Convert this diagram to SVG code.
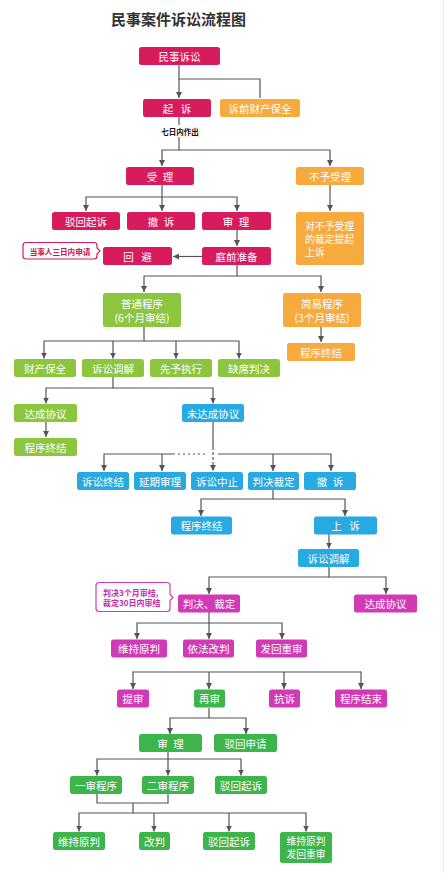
<svg xmlns="http://www.w3.org/2000/svg" width="444" height="873" viewBox="0 0 444 873">
<defs>
<marker id="ah" viewBox="0 0 8 8" refX="8" refY="4" markerWidth="6" markerHeight="6" markerUnits="userSpaceOnUse" orient="auto"><path d="M0,0 L8,4 L0,8 z" fill="#555"/></marker>
<style>
text{font-family:"Noto Sans CJK SC","Noto Sans",sans-serif;}
.t{fill:#fff;font-size:10.5px;text-anchor:middle;dominant-baseline:central;}
.t2{fill:#fff;font-size:9.8px;text-anchor:middle;dominant-baseline:central;}
.tl{fill:#fff;font-size:9.8px;dominant-baseline:central;}
.c{stroke:#555;stroke-width:1.2;fill:none;}
.a{marker-end:url(#ah);}
.r{fill:#d81b5c;}
.o{fill:#f7aa3d;}
.lg{fill:#8cc63f;}
.b{fill:#27a9e1;}
.m{fill:#d23ab5;}
.g{fill:#3db54a;}
</style>
</defs>
<rect width="444" height="873" fill="#fff"/>
<line x1="443.5" y1="0" x2="443.5" y2="873" stroke="#ececec" stroke-width="1"/>
<text x="178.5" y="25" font-size="15" font-weight="bold" fill="#333" text-anchor="middle">民事案件诉讼流程图</text>

<g id="connectors">
<path class="c" d="M179,65 V79 H260 V98"/>
<path class="c a" d="M179,79 V98"/>
<path class="c" d="M179,117 V125"/>
<path class="c a" d="M179,137 V150 H162 V166"/>
<path class="c a" d="M179,150 H330 V166"/>
<path class="c a" d="M162,185 V197 H86 V211"/>
<path class="c a" d="M162,197 V211"/>
<path class="c a" d="M162,197 H237 V211"/>
<path class="c a" d="M330,185 V211"/>
<path class="c a" d="M237,230 V246"/>
<path class="c a" d="M202,256.5 H173"/>
<path class="c a" d="M237,265 V276 H144 V292"/>
<path class="c a" d="M237,276 H321 V292"/>
<path class="c a" d="M321,327 V342"/>
<path class="c a" d="M144,327 V341 H44 V358.5"/>
<path class="c a" d="M113,341 V358.5"/>
<path class="c a" d="M176,341 V358.5"/>
<path class="c a" d="M144,341 H239 V358.5"/>
<path class="c a" d="M113,377 V388 H46 V403.5"/>
<path class="c a" d="M113,388 H213 V403.5"/>
<path class="c a" d="M46,422 V437"/>
<path class="c" d="M213,422 V447"/>
<path class="c a" d="M213,447 V471" stroke-dasharray="3,2"/>
<path class="c a" d="M175,454 H104 V471"/>
<path class="c a" d="M162,454 V471"/>
<path class="c" d="M178,454 H206" stroke-dasharray="2,3"/>
<path class="c a" d="M218,454 H331 V471"/>
<path class="c a" d="M273,454 V471"/>
<path class="c a" d="M273,489 V499 H201 V516"/>
<path class="c a" d="M273,499 H345 V516"/>
<path class="c a" d="M329,534 V548.5"/>
<path class="c a" d="M329,567 V577 H209 V594"/>
<path class="c a" d="M329,577 H386 V594"/>
<path class="c a" d="M209,612 V623 H137 V639"/>
<path class="c a" d="M209,623 V639"/>
<path class="c a" d="M209,623 H282 V639"/>
<path class="c" d="M133,672 H361"/>
<path class="c a" d="M133,671.4 V689"/>
<path class="c a" d="M209,672 V689"/>
<path class="c a" d="M284,672 V689"/>
<path class="c a" d="M361,671.4 V689"/>
<path class="c a" d="M209,708 V718 H170 V734"/>
<path class="c a" d="M209,718 H246 V734"/>
<path class="c a" d="M168,752 V759 H97 V775.5"/>
<path class="c a" d="M168,759 V775.5"/>
<path class="c a" d="M168,759 H241 V775.5"/>
<path class="c" d="M97,794 V803 H168 V794"/>
<path class="c a" d="M133,803 V813 H79 V831.5"/>
<path class="c a" d="M154,813 V831.5"/>
<path class="c a" d="M229,813 V831.5"/>
<path class="c a" d="M133,813 H306 V831.5"/>
<text x="180" y="131" font-size="7.5" font-weight="bold" fill="#111" text-anchor="middle" dominant-baseline="central">七日内作出</text>
</g>

<g id="n-mssn"><rect class="r" x="139" y="47" width="81" height="18" rx="2.5"/><text class="t" x="179.5" y="56">民事诉讼</text></g>
<g id="n-qs"><rect class="r" x="143" y="99" width="68" height="18" rx="2.5"/><text class="t" x="177" y="108" word-spacing="5">起 诉</text></g>
<g id="n-sqcc"><rect class="o" x="220" y="99" width="80" height="18" rx="2.5"/><text class="t" x="260" y="108">诉前财产保全</text></g>
<g id="n-sl"><rect class="r" x="126" y="167" width="68" height="18" rx="2.5"/><text class="t" x="160" y="176" word-spacing="3">受 理</text></g>
<g id="n-bysl"><rect class="o" x="296" y="167" width="68" height="18" rx="2.5"/><text class="t" x="330" y="176">不予受理</text></g>
<g id="n-bhqs"><rect class="r" x="52" y="212" width="68" height="18" rx="2.5"/><text class="t" x="86" y="221">驳回起诉</text></g>
<g id="n-cs"><rect class="r" x="127" y="212" width="68" height="18" rx="2.5"/><text class="t" x="161" y="221" word-spacing="3">撤 诉</text></g>
<g id="n-sl2"><rect class="r" x="202" y="212" width="69" height="18" rx="2.5"/><text class="t" x="236" y="221" word-spacing="3">审 理</text></g>
<g id="n-dbysl"><rect class="o" x="296" y="212" width="68" height="53" rx="2.5"/><text class="tl" x="305" y="225.5">对不予受理</text><text class="tl" x="305" y="238.5">的裁定提起</text><text class="tl" x="305" y="251.5">上诉</text></g>
<g id="n-hb"><rect class="r" x="103" y="247" width="69" height="18" rx="2.5"/><text class="t" x="137.5" y="256" word-spacing="5">回 避</text></g>
<g id="n-tqzb"><rect class="r" x="202" y="247" width="69" height="18" rx="2.5"/><text class="t" x="236.5" y="256">庭前准备</text></g>
<g id="n-callout1"><path d="M26,242.5 H94 Q97,242.5 97,245.5 V248 L100,251 L97,254 V256 Q97,259 94,259 H26 Q23,259 23,256 V245.5 Q23,242.5 26,242.5 Z" fill="#fff" stroke="#d81b5c" stroke-width="1.2"/><text x="60" y="251" font-size="7.6" font-weight="bold" fill="#c8174f" text-anchor="middle" dominant-baseline="central">当事人三日内申请</text></g>
<g id="n-ptcx"><rect class="lg" x="103" y="293" width="78" height="34" rx="2.5"/><text class="t" x="142" y="303">普通程序</text><text class="t" x="142" y="317">(6个月审结)</text></g>
<g id="n-jycx"><rect class="o" x="283" y="293" width="78" height="34" rx="2.5"/><text class="t" x="322" y="303">简易程序</text><text class="t" x="322" y="317">(3个月审结)</text></g>
<g id="n-cxzj1"><rect class="o" x="287" y="343" width="68" height="18" rx="2.5"/><text class="t" x="321" y="352">程序终结</text></g>
<g id="n-ccbq"><rect class="lg" x="14" y="359" width="62" height="18" rx="2.5"/><text class="t" x="45" y="368">财产保全</text></g>
<g id="n-sstj"><rect class="lg" x="82" y="359" width="62" height="18" rx="2.5"/><text class="t" x="113" y="368">诉讼调解</text></g>
<g id="n-xyzx"><rect class="lg" x="150" y="359" width="62" height="18" rx="2.5"/><text class="t" x="181" y="368">先予执行</text></g>
<g id="n-qxpj"><rect class="lg" x="218" y="359" width="62" height="18" rx="2.5"/><text class="t" x="249" y="368">缺席判决</text></g>
<g id="n-dcxy"><rect class="lg" x="14" y="404" width="63" height="18" rx="2.5"/><text class="t" x="45.5" y="413">达成协议</text></g>
<g id="n-wdcxy"><rect class="b" x="182" y="404" width="62" height="18" rx="2.5"/><text class="t" x="213" y="413">未达成协议</text></g>
<g id="n-cxzj2"><rect class="lg" x="14" y="438" width="63" height="18" rx="2.5"/><text class="t" x="45.5" y="447">程序终结</text></g>
<g id="n-sszj"><rect class="b" x="77" y="472" width="52" height="18" rx="2.5"/><text class="t" x="103" y="481">诉讼终结</text></g>
<g id="n-yqsl"><rect class="b" x="134" y="472" width="52" height="18" rx="2.5"/><text class="t" x="160" y="481">延期审理</text></g>
<g id="n-sszz"><rect class="b" x="191" y="472" width="52" height="18" rx="2.5"/><text class="t" x="217" y="481">诉讼中止</text></g>
<g id="n-pjcd"><rect class="b" x="248" y="472" width="51" height="18" rx="2.5"/><text class="t" x="273.5" y="481">判决裁定</text></g>
<g id="n-cs2"><rect class="b" x="304" y="472" width="52" height="18" rx="2.5"/><text class="t" x="330" y="481" word-spacing="3">撤 诉</text></g>
<g id="n-cxzj3"><rect class="b" x="171" y="516.5" width="61" height="18" rx="2.5"/><text class="t" x="201.5" y="525.5">程序终结</text></g>
<g id="n-ss"><rect class="b" x="314" y="516.5" width="63" height="18" rx="2.5"/><text class="t" x="345.5" y="525.5" word-spacing="5">上 诉</text></g>
<g id="n-sstj2"><rect class="b" x="298" y="549" width="61" height="18" rx="2.5"/><text class="t" x="328.5" y="558">诉讼调解</text></g>
<g id="n-callout2"><path d="M99,582.5 H167 Q170,582.5 170,585.5 V594.5 L173,597.5 L170,600.5 V608.5 Q170,611.5 167,611.5 H99 Q96,611.5 96,608.5 V585.5 Q96,582.5 99,582.5 Z" fill="#fff" stroke="#d23ab5" stroke-width="1.2"/><text x="103" y="592" font-size="8" font-weight="bold" fill="#c42fa8" dominant-baseline="central">判决3个月审结,</text><text x="103" y="602" font-size="8" font-weight="bold" fill="#c42fa8" dominant-baseline="central">裁定30日内审结</text></g>
<g id="n-pjcd2"><rect class="m" x="178" y="594.5" width="62" height="18" rx="2.5"/><text class="t" x="209" y="603.5">判决、裁定</text></g>
<g id="n-dcxy2"><rect class="m" x="354" y="594.5" width="63" height="18" rx="2.5"/><text class="t" x="385.5" y="603.5">达成协议</text></g>
<g id="n-wcyp"><rect class="m" x="111" y="639.5" width="56" height="18" rx="2.5"/><text class="t" x="139" y="648.5">维持原判</text></g>
<g id="n-yfgp"><rect class="m" x="183" y="639.5" width="51" height="18" rx="2.5"/><text class="t" x="208.5" y="648.5">依法改判</text></g>
<g id="n-fhcs"><rect class="m" x="256" y="639.5" width="51" height="18" rx="2.5"/><text class="t" x="281.5" y="648.5">发回重审</text></g>
<g id="n-ts"><rect class="m" x="117" y="689.5" width="32" height="18" rx="2.5"/><text class="t" x="133" y="698.5">提审</text></g>
<g id="n-zs"><rect class="g" x="194" y="689.5" width="31" height="18" rx="2.5"/><text class="t" x="209.5" y="698.5">再审</text></g>
<g id="n-ks"><rect class="m" x="269" y="689.5" width="31" height="18" rx="2.5"/><text class="t" x="284.5" y="698.5">抗诉</text></g>
<g id="n-cxjs"><rect class="m" x="335" y="689.5" width="52" height="18" rx="2.5"/><text class="t" x="361" y="698.5">程序结束</text></g>
<g id="n-sl3"><rect class="g" x="139" y="734" width="63" height="18" rx="2.5"/><text class="t" x="170.5" y="743" word-spacing="3">审 理</text></g>
<g id="n-bhsq"><rect class="g" x="214" y="734" width="63" height="18" rx="2.5"/><text class="t" x="245.5" y="743">驳回申请</text></g>
<g id="n-yscx"><rect class="g" x="70" y="776" width="52" height="18" rx="2.5"/><text class="t" x="96" y="785">一审程序</text></g>
<g id="n-escx"><rect class="g" x="142" y="776" width="52" height="18" rx="2.5"/><text class="t" x="168" y="785">二审程序</text></g>
<g id="n-bhqs2"><rect class="g" x="215" y="776" width="52" height="18" rx="2.5"/><text class="t" x="241" y="785">驳回起诉</text></g>
<g id="n-wcyp2"><rect class="g" x="53" y="832" width="52" height="18" rx="2.5"/><text class="t" x="79" y="841">维持原判</text></g>
<g id="n-gp"><rect class="g" x="139" y="832" width="31" height="18" rx="2.5"/><text class="t" x="154.5" y="841">改判</text></g>
<g id="n-bhqs3"><rect class="g" x="203" y="832" width="52" height="18" rx="2.5"/><text class="t" x="229" y="841">驳回起诉</text></g>
<g id="n-wcfh"><rect class="g" x="280" y="832" width="52" height="31" rx="2.5"/><text class="t2" x="306" y="841">维持原判</text><text class="t2" x="306" y="854">发回重审</text></g>
</svg>
